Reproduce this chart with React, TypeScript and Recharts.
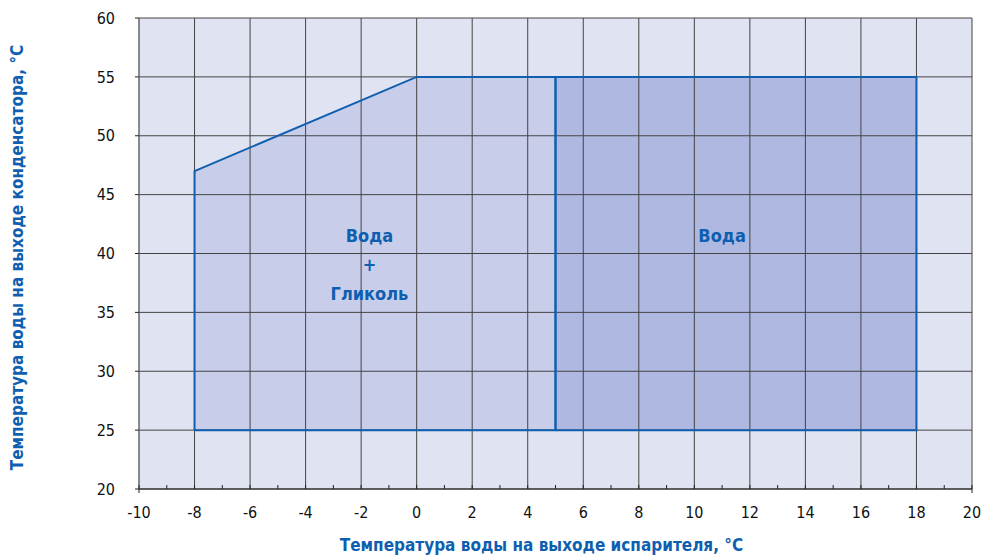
import {
  ComposedChart,
  XAxis,
  YAxis,
  CartesianGrid,
  Area,
  Line,
  ReferenceArea,
  ReferenceDot,
  Label,
} from "recharts";

// область работы "Вода + Гликоль"
const glycolTop = [
  { x: -8, y: 47 },
  { x: 0, y: 55 },
  { x: 5, y: 55 },
];
const glycolOutline = [
  { x: -8, y: 25 },
  { x: -8, y: 47 },
  { x: 0, y: 55 },
  { x: 5, y: 55 },
  { x: 5, y: 25 },
  { x: -8, y: 25 },
];
const glycolBase = 25;
// область работы "Вода"
const waterX = [5, 18];
const waterY = [25, 55];
const waterOutline = [
  { x: waterX[0], y: waterY[0] },
  { x: waterX[0], y: waterY[1] },
  { x: waterX[1], y: waterY[1] },
  { x: waterX[1], y: waterY[0] },
  { x: waterX[0], y: waterY[0] },
];

const xTicks = [-10, -9, -8, -7, -6, -5, -4, -3, -2, -1, 0, 1, 2, 3, 4, 5, 6, 7, 8, 9, 10, 11, 12, 13, 14, 15, 16, 17, 18, 19, 20];
const xGrid = [-10, -8, -6, -4, -2, 0, 2, 4, 6, 8, 10, 12, 14, 16, 18, 20];
const yTicks = [20, 25, 30, 35, 40, 45, 50, 55, 60];

const BLUE = "#0f5fb0";
const TICK_FONT = "'DejaVu Sans Condensed', sans-serif";
const TITLE_FONT = "'DejaVu Sans Condensed', sans-serif";

const XTick = (props: any) => {
  const { x, y, payload } = props;
  const v = payload.value;
  const even = v % 2 === 0;
  return (
    <g>
      <line x1={x} x2={x} y1={y} y2={y - 4} stroke="#222" />
      {(v === -10 || v === 20) && <line x1={x} x2={x} y1={y} y2={y + 4} stroke="#222" />}
      {even && (
        <text x={x} y={y + 29} textAnchor="middle" fontSize={16} fontFamily={TICK_FONT} fill="#111">
          {v}
        </text>
      )}
    </g>
  );
};

const GlycolLabel = (props: any) => {
  const { viewBox } = props;
  const cx = viewBox.x;
  const cy = viewBox.y;
  return (
    <text textAnchor="middle" fontSize={18} fontWeight="bold" fontFamily={TITLE_FONT} fill={BLUE}>
      <tspan x={cx} y={cy + 6}>Вода</tspan>
      <tspan x={cx} y={cy + 35}>+</tspan>
      <tspan x={cx} y={cy + 64}>Гликоль</tspan>
    </text>
  );
};

export default function App() {
  return (
    <div style={{ position: "absolute", left: 0, top: 0, background: "#fff" }}>
      <ComposedChart width={983} height={557} margin={{ top: 18, right: 11, left: 0, bottom: 0 }}>
        <CartesianGrid
          fill="#e0e3f2"
          stroke="none"
          verticalValues={xGrid}
          horizontalValues={yTicks}
        />
        <XAxis
          dataKey="x"
          type="number"
          domain={[-10, 20]}
          ticks={xTicks}
          interval={0}
          height={68}
          stroke="#222"
          tickSize={0}
          tickMargin={0}
          tick={<XTick />}
          allowDataOverflow
        >
          <Label
            value="Температура воды на выходе испарителя, °С"
            position="insideBottom"
            offset={6}
            dx={-14}
            fill={BLUE}
            fontSize={17}
            fontWeight="bold"
            fontFamily={TITLE_FONT}
          />
        </XAxis>
        <YAxis
          dataKey="y"
          type="number"
          domain={[20, 60]}
          ticks={yTicks}
          interval={0}
          width={139}
          stroke="#777"
          tickSize={4}
          tickMargin={20}
          tick={{ fill: "#111", fontSize: 16, fontFamily: TICK_FONT }}
          tickLine={{ stroke: "#222" }}
          allowDataOverflow
        >
          <Label
            value="Температура воды на выходе конденсатора, °С"
            angle={-90}
            position="insideLeft"
            offset={17}
            textAnchor="middle"
            dy={4}
            fill={BLUE}
            fontSize={17}
            fontWeight="bold"
            fontFamily={TITLE_FONT}
          />
        </YAxis>
        <Area
          data={glycolTop}
          dataKey="y"
          type="linear"
          baseValue={glycolBase}
          fill="#c8cdea"
          fillOpacity={1}
          stroke="none"
          isAnimationActive={false}
          dot={false}
          activeDot={false}
        />
        <ReferenceArea
          x1={waterX[0]}
          x2={waterX[1]}
          y1={waterY[0]}
          y2={waterY[1]}
          fill="#aeb8e0"
          fillOpacity={1}
          stroke="none"
          ifOverflow="visible"
        />
        <CartesianGrid
          fill="none"
          stroke="#444"
          verticalValues={xGrid}
          horizontalValues={yTicks}
          zIndex={350}
        />
        <Line
          data={glycolOutline}
          dataKey="y"
          type="linear"
          stroke={BLUE}
          strokeWidth={2}
          dot={false}
          activeDot={false}
          isAnimationActive={false}
        />
        <Line
          data={waterOutline}
          dataKey="y"
          type="linear"
          stroke={BLUE}
          strokeWidth={2}
          dot={false}
          activeDot={false}
          isAnimationActive={false}
        />
        <ReferenceDot x={-1.7} y={41.5} r={0} fill="none" stroke="none" label={<GlycolLabel />} />
        <ReferenceDot
          x={11}
          y={41.5}
          r={0}
          fill="none"
          stroke="none"
          label={{ value: "Вода", position: "center", fill: BLUE, fontSize: 18, fontWeight: "bold", fontFamily: TITLE_FONT }}
        />
      </ComposedChart>
    </div>
  );
}
